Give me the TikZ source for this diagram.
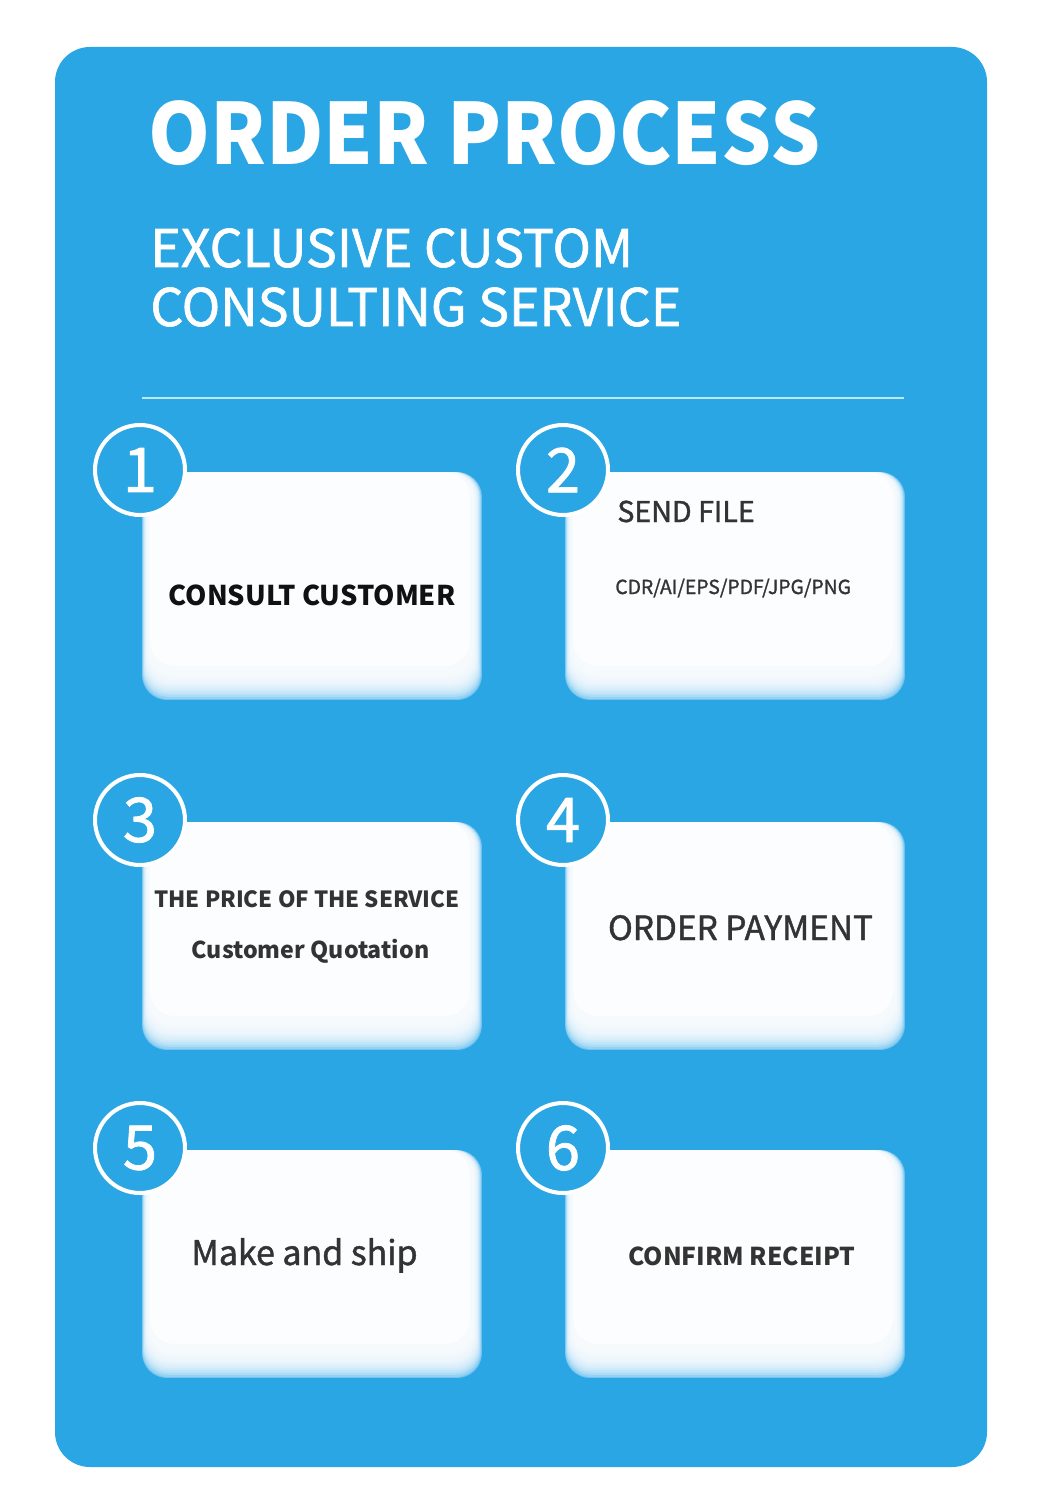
\documentclass[tikz,border=0pt]{standalone}
\usepackage{fontspec}
\setmainfont{Noto Sans CJK SC}
\newfontfamily\mediumfont{Noto Sans CJK SC}[FakeBold=1.3]
\usetikzlibrary{positioning,calc}

\definecolor{panelblue}{HTML}{29A6E3}
\definecolor{glowblue}{HTML}{72C3EF}
\definecolor{cardwhite}{HTML}{FBFDFF}
\definecolor{rulecyan}{HTML}{BDE8F8}
\definecolor{ink}{HTML}{333333}
\definecolor{darkink}{HTML}{111111}

\begin{document}
\begin{tikzpicture}[
  x=0.02cm, y=-0.02cm,
  panel/.style={fill=panelblue, rounded corners=0.7cm},
  card/.style={
    rounded corners=0.5cm, minimum width=6.8cm, minimum height=4.56cm,
    inner sep=0pt, fill=glowblue,
    path picture={
      \foreach \i in {0,...,13}
        \fill[cardwhite, opacity=0.25, rounded corners=0.5cm]
          ($(path picture bounding box.north west)+(0.5+0.5*\i,0)$) rectangle
          ($(path picture bounding box.south east)+(-1-0.7*\i,-1-2.2*\i)$);
      \fill[cardwhite, rounded corners=0.5cm]
        ($(path picture bounding box.north west)+(8,0)$) rectangle
        ($(path picture bounding box.south east)+(-12,-34)$);
    }
  },
  stepnum/.style={
    circle, draw=white, line width=2.3pt, fill=panelblue,
    minimum size=1.8cm, inner sep=0pt, text=white,
    font=\mediumfont\fontsize{35}{35}\selectfont
  },
  headline/.style={anchor=base west, inner sep=0pt, text=white},
  lbl/.style={anchor=base, inner sep=0pt, text=ink},
  boldlbl/.style={lbl, font=\bfseries\fontsize{12.7}{15}\selectfont}
]

% Background panel
\useasboundingbox (0,0) rectangle (1042,1486);
\fill[white] (0,0) rectangle (1042,1486);
\fill[panel] (55,47) rectangle (987,1467);

% Headings
\node[headline, font=\bfseries\fontsize{48}{50}\selectfont] (title) at (148,165) {\scalebox{0.935}[1]{ORDER PROCESS}};
\node[headline, font=\mediumfont\fontsize{29.5}{32}\selectfont] (sub1) at (150,267) {EXCLUSIVE CUSTOM};
\node[headline, font=\mediumfont\fontsize{29.5}{32}\selectfont] (sub2) at (150,326) {CONSULTING SERVICE};
\draw[rulecyan, line width=1.1pt] (142,398) -- (904,398);

% Cards
\node[card] (c1) at (312,586) {};
\node[card] (c2) at (735,586) {};
\node[card] (c3) at (312,936) {};
\node[card] (c4) at (735,936) {};
\node[card] (c5) at (312,1264) {};
\node[card] (c6) at (735,1264) {};

% Step numbers
\node[stepnum] (n1) at (140,470) {1};
\node[stepnum] (n2) at (563,470) {2};
\node[stepnum] (n3) at (140,820) {3};
\node[stepnum] (n4) at (563,820) {4};
\node[stepnum] (n5) at (140,1148) {5};
\node[stepnum] (n6) at (563,1148) {6};

% Card texts
\node[lbl, text=darkink, font=\bfseries\fontsize{15.5}{18}\selectfont] (t1) at (312,605) {CONSULT CUSTOMER};
\node[lbl, anchor=base west, font=\mediumfont\fontsize{16.3}{18}\selectfont] (t2) at (617,522) {SEND FILE};
\node[lbl, anchor=base west, font=\mediumfont\fontsize{11}{12}\selectfont] (t2b) at (615,594) {CDR/AI/EPS/PDF/JPG/PNG};
\node[boldlbl] (t3) at (307,907) {THE PRICE OF THE SERVICE};
\node[boldlbl, font=\bfseries\fontsize{13.2}{15}\selectfont] (t3b) at (310.5,958) {Customer Quotation};
\node[lbl, font=\mediumfont\fontsize{19}{21}\selectfont] (t4) at (740.5,940) {ORDER PAYMENT};
\node[lbl, font=\mediumfont\fontsize{19.3}{21}\selectfont] (t5) at (304.5,1265) {Make and ship};
\node[lbl, font=\bfseries\fontsize{14}{16}\selectfont] (t6) at (742,1265) {CONFIRM RECEIPT};

\end{tikzpicture}
\end{document}
